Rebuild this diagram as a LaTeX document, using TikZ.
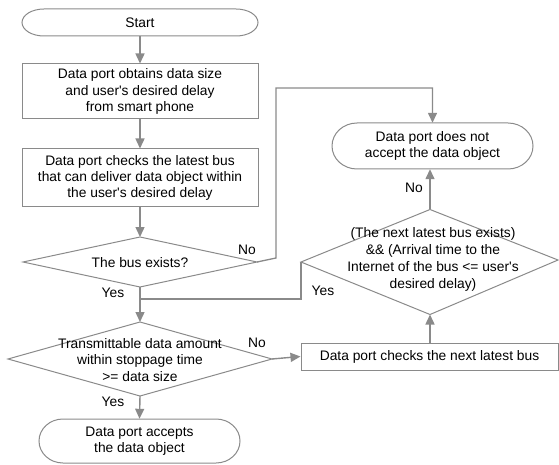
\documentclass[tikz,border=0pt]{standalone}
\usepackage{fontspec}
\setmainfont{Liberation Sans}[Ligatures=TeXOff]
\usetikzlibrary{arrows.meta}
\definecolor{linecol}{RGB}{138,138,138}
\newcommand\termshape[5]{%
 \draw[shapeline] ({#1-#3/2+#5},{#2+#4/2}) -- ({#1+#3/2-#5},{#2+#4/2})
   arc[start angle=90,end angle=-90,x radius=#5,y radius=#4/2]
   -- ({#1-#3/2+#5},{#2-#4/2})
   arc[start angle=270,end angle=90,x radius=#5,y radius=#4/2] -- cycle;}
\begin{document}
\begin{tikzpicture}[x=1pt,y=1pt,
  font=\fontsize{13.8}{16.3}\selectfont,
  shapeline/.style={draw=linecol,line width=1pt},
  txt/.style={inner sep=0pt,align=center,text=black},
  procbox/.style={txt,shapeline,minimum width=236pt,minimum height=#1},
  termnode/.style={txt},
  flow/.style={draw=linecol,line width=1.4pt,-{Triangle[length=10pt,width=9pt]}},
  plain/.style={draw=linecol,line width=1.3pt},
  lbl/.style={inner sep=0pt,text=black}]
\useasboundingbox (0,0) rectangle (559,464);

% Start
\node[termnode,minimum width=236pt,minimum height=27pt] (start) at (140,441.5) {Start};
\termshape{140}{441.5}{236}{27}{22}

% Boxes
\node[procbox=55pt] (b1) at (140,372.5) {Data port obtains data size\\and user's desired delay\\from smart phone};
\node[procbox=58pt] (b2) at (140,286) {Data port checks the latest bus\\that can deliver data object within\\the user's desired delay};

% Diamond 1
\coordinate (d1t) at (140,227);
\coordinate (d1b) at (140,177);
\coordinate (d1l) at (23,202);
\coordinate (d1r) at (257,202);
\draw[shapeline] (d1t) -- (d1r) -- (d1b) -- (d1l) -- cycle;
\node[txt] (d1) at (140,201) {The bus exists?};

% Diamond 3
\coordinate (d3t) at (140,142);
\coordinate (d3b) at (140,68);
\coordinate (d3l) at (8,105);
\coordinate (d3r) at (272,105);
\draw[shapeline] (d3t) -- (d3r) -- (d3b) -- (d3l) -- cycle;
\node[txt] (d3) at (140,104) {Transmittable data amount\\within stoppage time\\>= data size};

% Accept
\node[termnode,minimum width=201pt,minimum height=44pt] (acc) at (139.5,23) {Data port accepts\\the data object};
\termshape{139.5}{23}{201}{44}{24}

% Reject
\node[termnode,minimum width=201pt,minimum height=46pt] (rej) at (432.5,318) {Data port does not\\accept the data object};
\termshape{432.5}{318}{201}{46}{25}

% Diamond 2
\coordinate (d2t) at (430,254.5);
\coordinate (d2b) at (430,149.5);
\coordinate (d2l) at (301,202);
\coordinate (d2r) at (558,204);
\draw[shapeline] (d2t) -- (d2r) -- (d2b) -- (d2l) -- cycle;
\node[txt,font=\fontsize{13.8}{17}\selectfont] (d2) at (433,205) {(The next latest bus exists)\\\&\& (Arrival time to the\\Internet of the bus <= user's\\desired delay)};

% Box 3
\node[txt,shapeline,minimum width=257pt,minimum height=27pt] (b3) at (429.5,107.5) {Data port checks the next latest bus};

% Connectors
\coordinate (m1) at (140,165);
\coordinate (n1) at (276,206);
\coordinate (n2) at (276,376);
\coordinate (y2) at (301,165);
\draw[flow] (start.south) -- (b1.north);
\draw[flow] (b1.south) -- (b2.north);
\draw[flow] (b2.south) -- (d1t);
\draw[flow] (d1b) -- (d3t);
\draw[flow] (d3b) -- (acc.north);
\draw[flow] (d3r) -- (b3.west);
\draw[flow] (b3.north -| d2b) -- (d2b);
\draw[flow] (d2t) -- (rej.south -| d2t);
\draw[plain] (d1r) -- (n1) -- (n2) -| ([yshift=10pt]rej.north);
\draw[flow] ([yshift=10.5pt]rej.north) -- (rej.north);
\draw[plain] (d2l) -- (y2) -- (m1);

% Labels
\node[lbl] (l1) at (247,214) {No};
\node[lbl] (l2) at (113,171) {Yes};
\node[lbl] (l3) at (257,121) {No};
\node[lbl] (l4) at (113,62) {Yes};
\node[lbl] (l5) at (323,173) {Yes};
\node[lbl] (l6) at (414,276) {No};
\end{tikzpicture}
\end{document}
